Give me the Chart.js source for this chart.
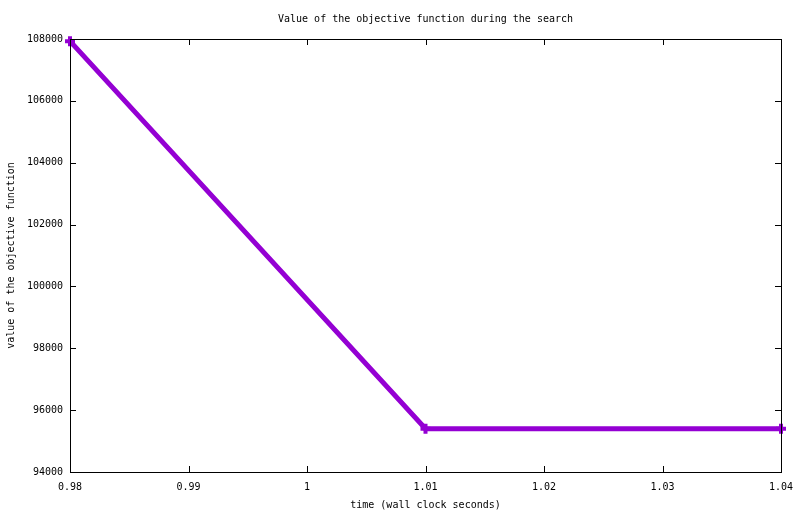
<!DOCTYPE html>
<html>
<head>
<meta charset="utf-8">
<script src="https://cdn.jsdelivr.net/npm/chart.js@4"></script>
<style>
  html, body { margin: 0; padding: 0; background: #fff; overflow: hidden; }
  #wrap { width: 800px; height: 514px; }
</style>
</head>
<body>
<div id="wrap"><canvas id="objChart"></canvas></div>
<script>
// data
const times = [0.98, 1.01, 1.04]
const objValues = [107930, 95400, 95400]
const chartTitle = 'Value of the objective function during the search'

const FONT = 'DejaVu Sans Mono'
Chart.defaults.font.family = FONT
Chart.defaults.font.size = 10
Chart.defaults.color = '#000'

// gnuplot style: frame + inward ticks on all sides, title centred over the plot
const frameTicks = {
    id: 'frameTicks',
    afterDraw(chart) {
        const { ctx, chartArea: a, scales: { x, y } } = chart
        const len = 6
        ctx.save()
        ctx.strokeStyle = '#000'
        ctx.lineWidth = 1
        ctx.beginPath()
        x.ticks.forEach(t => {
            const px = Math.round(x.getPixelForValue(t.value)) + 0.5
            ctx.moveTo(px, a.bottom); ctx.lineTo(px, a.bottom - len)
            ctx.moveTo(px, a.top); ctx.lineTo(px, a.top + len)
        })
        y.ticks.forEach(t => {
            const py = Math.round(y.getPixelForValue(t.value)) + 0.5
            ctx.moveTo(a.left, py); ctx.lineTo(a.left + len, py)
            ctx.moveTo(a.right, py); ctx.lineTo(a.right - len, py)
        })
        ctx.stroke()
        ctx.strokeRect(Math.round(a.left) + 0.5, Math.round(a.top) + 0.5,
            Math.round(a.right - a.left), Math.round(a.bottom - a.top))

        ctx.font = '10px ' + FONT
        ctx.fillStyle = '#000'
        ctx.textAlign = 'center'
        ctx.textBaseline = 'middle'
        ctx.fillText(chartTitle, (a.left + a.right) / 2, 19)
        ctx.restore()
    }
}

const data = {
    datasets: [{
        data: times.map((t, i) => ({ x: t, y: objValues[i] })),
        borderColor: '#9400d3',
        backgroundColor: '#9400d3',
        borderWidth: 5,
        pointStyle: 'cross',
        pointRadius: 5,
        pointBorderWidth: 4,
        tension: 0,
        clip: false
    }]
}

const options = {
    responsive: true,
    maintainAspectRatio: false,
    animation: false,
    layout: { padding: { left: 0, right: 19, top: 39, bottom: 0 } },
    plugins: {
        legend: { display: false },
        tooltip: { enabled: false }
    },
    scales: {
        x: {
            type: 'linear',
            min: 0.98,
            max: 1.04,
            ticks: {
                stepSize: 0.01,
                padding: 9,
                maxRotation: 0,
                callback: v => String(Number(v.toFixed(2)))
            },
            grid: { drawOnChartArea: false, drawTicks: false },
            border: { display: false },
            title: {
                display: true,
                text: 'time (wall clock seconds)',
                padding: { top: 0, bottom: 3 }
            },
            afterFit: s => { s.height = 42; s.paddingLeft = 0; s.paddingRight = 0 }
        },
        y: {
            min: 94000,
            max: 108000,
            ticks: { stepSize: 2000, padding: 7, callback: v => String(v) },
            grid: { drawOnChartArea: false, drawTicks: false },
            border: { display: false },
            title: {
                display: true,
                text: 'value of the objective function',
                padding: { top: 5, bottom: 0 }
            },
            afterFit: s => { s.width = 70; s.paddingTop = 0; s.paddingBottom = 0 }
        }
    }
}

new Chart('objChart', { type: 'line', data, options, plugins: [frameTicks] })
</script>
</body>
</html>
